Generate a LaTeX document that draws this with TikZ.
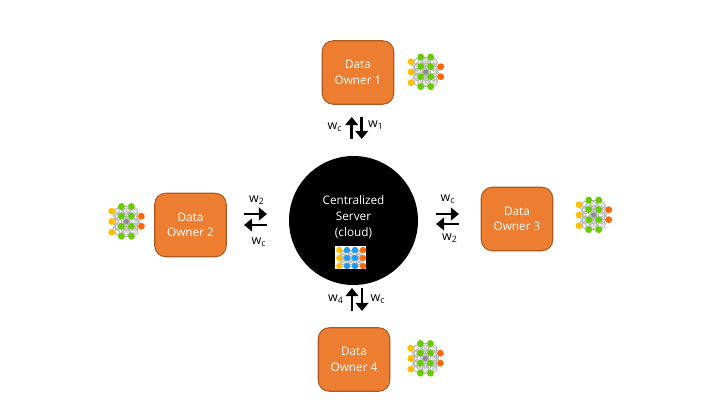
\documentclass[tikz,border=0pt]{standalone}
\usepackage{fontspec}
\setmainfont{Open Sans}
\usetikzlibrary{arrows.meta, positioning}

\definecolor{ownerfill}{HTML}{ED7D31}
\definecolor{ownerline}{HTML}{AE5A21}
\definecolor{netyellow}{HTML}{FFC000}
\definecolor{netgreen}{HTML}{66CC00}
\definecolor{netorange}{HTML}{FF6600}
\definecolor{netblue}{HTML}{1E9BF0}

\tikzset{
  owner/.style={draw=ownerline, line width=.6pt, fill=ownerfill, rounded corners=.22cm,
    minimum width=1.43cm, minimum height=1.27cm, inner sep=0pt, text=white,
    font=\fontsize{6.7}{8.8}\selectfont, align=center, text depth=0pt},
  flow/.style={line width=1.5pt, -{Triangle[width=7.2pt, length=4.6pt]}},
  weight/.style={inner sep=0pt, font=\fontsize{7.1}{8}\selectfont},
  mesh/.style={draw=black!30, line width=.3pt},
  ring/.style={draw=black!28, line width=.5pt},
  pics/netw/.style={code={
    % links behind the units
    \foreach \ya in {-10.3,0,10.7}
      \foreach \yb in {-15,-5.5,4.7,14.7}
        \draw[mesh] (-14.7,\ya) -- (-5,\yb);
    \foreach \ya in {-15,-5.5,4.7,14.7}
      \foreach \yb in {-15,-5.5,4.7,14.7}
        \draw[mesh] (-5,\ya) -- (5,\yb);
    \foreach \ya in {-15,-5.5,4.7,14.7}
      \foreach \yb in {-5.3,4.7}
        \draw[mesh] (5,\ya) -- (15,\yb);
    \foreach \xb in {-8,0,8}
      \foreach \yb in {-10,-5,0,5,10}
        \draw[ring] (\xb,\yb) circle (3.6);
    \fill[black!45] (0,0) circle (2.6);
    \foreach \yb in {-10.3,0,10.7}
      \fill[netyellow] (-14.7,\yb) circle (3.4);
    \foreach \xb in {-5,5}
      \foreach \yb in {-15,-5.5,4.7,14.7}
        \fill[netgreen] (\xb,\yb) circle (3.4);
    \foreach \yb in {-5.3,4.7}
      \fill[netorange] (15,\yb) circle (3.4);
  }}
}

\begin{document}
\begin{tikzpicture}[x=.02cm, y=-.02cm]
  \useasboundingbox[fill=white] (0,0) rectangle (720,405);

  \node[circle, fill=black, minimum size=2.58cm, inner sep=0pt] (server) at (353.5,220.5) {};
  \node[text=white, font=\fontsize{6.7}{9.1}\selectfont, align=center] (title) at (353.5,217) {Centralized\\Server\\(cloud)};

  \node[owner] (owner1) at (358,72.5) {Data\\Owner 1};
  \node[owner] (owner2) at (190.5,225) {Data\\Owner 2};
  \node[owner] (owner3) at (517,219) {Data\\Owner 3};
  \node[owner] (owner4) at (354,359.5) {Data\\Owner 4};

  \pic (net1) at (425.7,72) {netw};
  \pic (net2) at (126.4,221.5) {netw};
  \pic (net3) at (593.7,215) {netw};
  \pic (net4) at (425.4,358.5) {netw};

  % the model inside the server
  \node[fill=white, minimum width=.62cm, minimum height=.46cm, inner sep=0pt] (servernet) at (350.5,257.5) {};
  \foreach \ya in {250,258,266} {
    \foreach \yb in {250,258,266} {
      \draw[mesh] (339.3,\ya) -- (347,\yb);
      \draw[mesh] (347,\ya) -- (355,\yb);
      \draw[mesh] (355,\ya) -- (363,\yb);
    }
  }
  \foreach \ya in {254,262}
    \foreach \xb in {343,351,359}
      \draw[ring] (\xb,\ya) circle (2.6);
  \foreach \ya in {250,258,266}
    \foreach \xb/\cb in {339.3/netyellow, 347/netblue, 355/netblue, 363/netorange}
      \fill[\cb] (\xb,\ya) circle (3.2);

  % arrow ends
  \coordinate (topup0) at (351.7,139);   \coordinate (topup1) at (351.7,117);
  \coordinate (topdn0) at (361.7,117);   \coordinate (topdn1) at (361.7,139);
  \coordinate (leftr0) at (244,214);     \coordinate (leftr1) at (267,214);
  \coordinate (leftl0) at (267,225);     \coordinate (leftl1) at (244,225);
  \coordinate (rightr0) at (436,214);    \coordinate (rightr1) at (459,214);
  \coordinate (rightl0) at (459,224);    \coordinate (rightl1) at (436,224);
  \coordinate (botup0) at (352,311);     \coordinate (botup1) at (352,288);
  \coordinate (botdn0) at (362,288);     \coordinate (botdn1) at (362,311);

  \draw[flow] (topup0) -- (topup1);
  \draw[flow] (topdn0) -- (topdn1);
  \draw[flow] (leftr0) -- (leftr1);
  \draw[flow] (leftl0) -- (leftl1);
  \draw[flow] (rightr0) -- (rightr1);
  \draw[flow] (rightl0) -- (rightl1);
  \draw[flow] (botup0) -- (botup1);
  \draw[flow] (botdn0) -- (botdn1);

  \node[weight] (wtopc) at (335,127) {w\textsubscript{c}};
  \node[weight] (wtop1) at (376,125) {w\textsubscript{1}};
  \node[weight] (wleft2) at (257,200) {w\textsubscript{2}};
  \node[weight] (wleftc) at (259,242) {w\textsubscript{c}};
  \node[weight] (wrightc) at (448,199) {w\textsubscript{c}};
  \node[weight] (wright2) at (450,238) {w\textsubscript{2}};
  \node[weight] (wbot4) at (336,299) {w\textsubscript{4}};
  \node[weight] (wbotc) at (378,299) {w\textsubscript{c}};
\end{tikzpicture}
\end{document}
